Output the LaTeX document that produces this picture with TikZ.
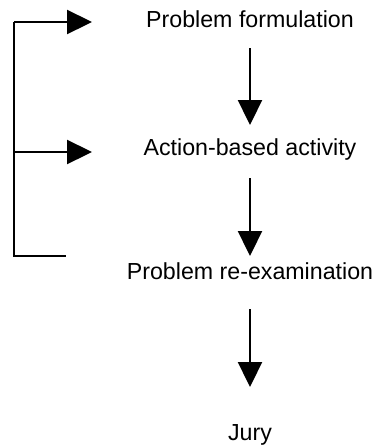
\documentclass[tikz,border=0pt]{standalone}
\usepackage{fontspec}
\setmainfont{Liberation Sans}
\usetikzlibrary{arrows.meta}
\begin{document}
\begin{tikzpicture}[x=1pt,y=-1pt,
  stage/.style={anchor=base,inner sep=0pt,font=\fontsize{23.2}{28}\selectfont},
  flow/.style={line width=2.3pt,-{Triangle[width=24pt,length=25pt]}},
  loop/.style={line width=2.3pt}]
\useasboundingbox (0,0) rectangle (374,448);
% stages
\node[stage] (pf) at (250,27) {Problem formulation};
\node[stage] (ab) at (250,155) {Action-based activity};
\node[stage] (pr) at (250,279) {Problem re-examination};
\node[stage] (jury) at (250,440) {Jury};
% main flow
\draw[flow] ([yshift=-21pt]pf.base) -- ([yshift=30pt]ab.base);
\draw[flow] ([yshift=-23pt]ab.base) -- ([yshift=23pt]pr.base);
\draw[flow] ([yshift=-30pt]pr.base) -- ([yshift=53pt]jury.base);
% feedback loop on the left
\coordinate (ltop) at (14,22);
\coordinate (lmid) at (14,152);
\coordinate (lbot) at (14,256);
\coordinate (lend) at (66,256);
\coordinate (toPf) at (92,22);
\coordinate (toAb) at (92,152);
\draw[loop,line join=miter] (ltop) -- (lbot) -- (lend);
\draw[flow] (ltop) -- (toPf);
\draw[flow] (lmid) -- (toAb);
\end{tikzpicture}
\end{document}
